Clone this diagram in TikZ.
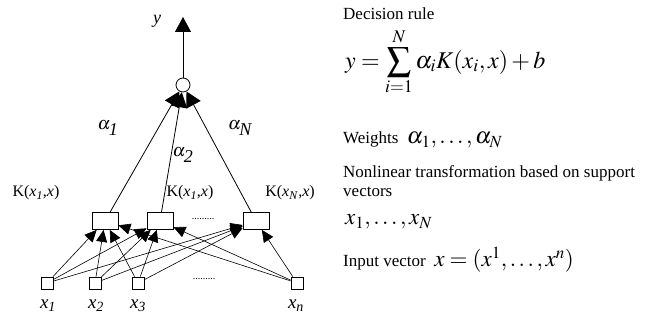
\documentclass[tikz,border=0pt]{standalone}
\usepackage{mathptmx}
\usepackage{fontspec}
\setmainfont{Liberation Serif}
\usetikzlibrary{arrows.meta}

\begin{document}
\begin{tikzpicture}[x=1pt, y=1pt,
  every node/.style={font=\fontsize{16}{18}\selectfont, inner sep=0pt},
  unit/.style={draw, thick, fill=white, minimum width=26pt, minimum height=17pt},
  inbox/.style={draw, thick, fill=white, minimum size=12pt},
  bigarrow/.style={-{Triangle[width=16pt,length=15pt]}, thick},
  smallarrow/.style={-{Triangle[width=11pt,length=12pt]}, semithick},
  note/.style={anchor=west, font=\fontsize{17}{19}\selectfont}]
  \useasboundingbox (0,0) rectangle (655,320);

  % Output
  \node[draw, thick, circle, minimum size=14pt] (out) at (183,235) {};
  \coordinate (top) at (183,303);
  \draw[bigarrow] (out) -- (top);
  \node (ylab) at (157,299) {\fontsize{18}{20}\selectfont\textit{y}};

  % Support vector units
  \node[unit] (h1) at (105,99) {};
  \node[unit] (h2) at (160,99) {};
  \node[unit] (h3) at (256,99) {};
  \node (hdots) at (203,101) {\fontsize{10}{10}\selectfont .........};
  \node (k1) at (36,127) {K(\textit{x}\textsubscript{\textit{1}},\textit{x})};
  \node (k2) at (190,127) {K(\textit{x}\textsubscript{\textit{1}},\textit{x})};
  \node (kn) at (290,127) {K(\textit{x}\textsubscript{\textit{N}},\textit{x})};

  % Weights
  \draw[bigarrow] (h1) -- (out);
  \draw[bigarrow] (h2) -- (out);
  \draw[bigarrow] (h3) -- (out);
  \node (a1) at (108,192) {\fontsize{18}{20}\selectfont$\alpha_{\textit{1}}$};
  \node (a2) at (183,165) {\fontsize{18}{20}\selectfont$\alpha_{\textit{2}}$};
  \node (an) at (240,192) {\fontsize{18}{20}\selectfont$\alpha_{\textit{N}}$};

  % Inputs
  \node[inbox] (in1) at (47,37) {};
  \node[inbox] (in2) at (95,37) {};
  \node[inbox] (in3) at (138,37) {};
  \node[inbox] (inn) at (297,37) {};
  \node (idots) at (204,41) {\fontsize{10}{10}\selectfont .........};
  \node (l1) at (48,14) {\fontsize{19}{20}\selectfont\textit{x}\textsubscript{\textit{1}}};
  \node (l2) at (96,14) {\fontsize{19}{20}\selectfont\textit{x}\textsubscript{\textit{2}}};
  \node (l3) at (138,14) {\fontsize{19}{20}\selectfont\textit{x}\textsubscript{\textit{3}}};
  \node (ln) at (296,14) {\fontsize{19}{20}\selectfont\textit{x}\textsubscript{\textit{n}}};

  % Input connections
  \draw[smallarrow] (in1) -- (h1);
  \draw[smallarrow] (in1) -- (h2);
  \draw[smallarrow] (in1) -- (h3);
  \draw[smallarrow] (in2) -- (h1);
  \draw[smallarrow] (in2) -- (h2);
  \draw[smallarrow] (in2) -- (h3);
  \draw[smallarrow] (in3) -- (h1);
  \draw[smallarrow] (in3) -- (h2);
  \draw[smallarrow] (in3) -- (h3);
  \draw[smallarrow] (inn) -- (h1);
  \draw[smallarrow] (inn) -- (h2);
  \draw[smallarrow] (inn) -- (h3);

  % Notes
  \node[note] (rule) at (343,306) {Decision rule};
  \node[note, font=\fontsize{24}{26}\selectfont] (eq) at (345,258)
    {$\displaystyle y=\sum_{i=1}^{N}\alpha_i K(x_i,x)+b$};
  \node[note] (wts) at (343,180) {Weights\enspace{\fontsize{23}{25}\selectfont$\alpha_1,\ldots,\alpha_N$}};
  \node[note, align=left] (nlt) at (343,139) {Nonlinear transformation based on support\\vectors};
  \node[note, font=\fontsize{23}{25}\selectfont] (sv) at (345,98) {$x_1,\ldots,x_N$};
  \node[note] (inp) at (343,60) {Input vector\enspace{\fontsize{23}{25}\selectfont$x=(x^1,\ldots,x^n)$}};
\end{tikzpicture}
\end{document}
